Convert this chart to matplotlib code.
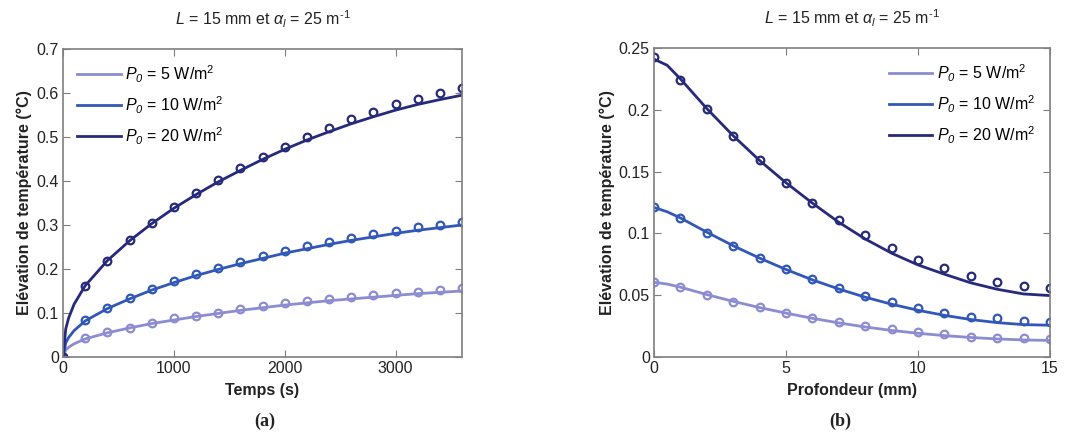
import matplotlib
matplotlib.use("Agg")
import matplotlib.pyplot as plt
import numpy as np

plt.rcParams['font.family'] = ['Liberation Sans', 'DejaVu Sans']
plt.rcParams['mathtext.fontset'] = 'custom'
plt.rcParams['mathtext.rm'] = 'Liberation Sans'
plt.rcParams['mathtext.it'] = 'Liberation Sans:italic'
plt.rcParams['mathtext.bf'] = 'Liberation Sans:bold'
plt.rcParams['mathtext.sf'] = 'Liberation Sans:italic'

# ---------------- Data (a): temperature rise vs time ----------------
t_meas = [0, 200, 400, 600, 800, 1000, 1200, 1400, 1600, 1800, 2000,
          2200, 2400, 2600, 2800, 3000, 3200, 3400, 3600]
a_meas_p5 = [0, 0.043, 0.056, 0.067, 0.078, 0.088, 0.094, 0.101, 0.110, 0.116,
             0.122, 0.127, 0.132, 0.136, 0.141, 0.145, 0.148, 0.152, 0.156]
a_meas_p10 = [0, 0.083, 0.111, 0.133, 0.154, 0.173, 0.189, 0.202, 0.217, 0.230,
              0.242, 0.252, 0.261, 0.270, 0.279, 0.287, 0.296, 0.300, 0.306]
a_meas_p20 = [0, 0.161, 0.219, 0.266, 0.304, 0.342, 0.372, 0.402, 0.430, 0.455,
              0.478, 0.501, 0.521, 0.541, 0.557, 0.574, 0.587, 0.599, 0.612]

t_sim = [0, 25, 50, 100, 200, 400, 600, 800, 1000, 1200, 1400, 1600, 1800,
         2000, 2200, 2400, 2600, 2800, 3000, 3200, 3400, 3600]
a_sim_p5 = [0, 0.016, 0.022, 0.030, 0.041, 0.055, 0.066, 0.076, 0.084, 0.092,
            0.099, 0.106, 0.112, 0.118, 0.123, 0.128, 0.132, 0.136, 0.140,
            0.144, 0.147, 0.150]
a_sim_p10 = [0, 0.032, 0.044, 0.060, 0.082, 0.110, 0.132, 0.152, 0.169, 0.185,
             0.199, 0.212, 0.224, 0.236, 0.246, 0.256, 0.265, 0.273, 0.281,
             0.288, 0.294, 0.300]
a_sim_p20 = [0, 0.064, 0.088, 0.120, 0.162, 0.219, 0.264, 0.303, 0.338, 0.369,
             0.398, 0.424, 0.449, 0.472, 0.493, 0.512, 0.530, 0.546, 0.561,
             0.574, 0.585, 0.595]

# ---------------- Data (b): temperature rise vs depth ----------------
z_meas = list(range(0, 16))
b_meas_p5 = [0.0609, 0.0564, 0.0502, 0.0448, 0.0402, 0.0359, 0.0313, 0.0281,
             0.0251, 0.0227, 0.0200, 0.0184, 0.0164, 0.0156, 0.0151, 0.0143]
b_meas_p10 = [0.1216, 0.1122, 0.1000, 0.0898, 0.0798, 0.0712, 0.0628, 0.0556,
              0.0494, 0.0442, 0.0399, 0.0359, 0.0326, 0.0313, 0.0294, 0.0281]
b_meas_p20 = [0.2424, 0.2240, 0.2006, 0.1790, 0.1590, 0.1410, 0.1250, 0.1110,
              0.0987, 0.0879, 0.0785, 0.0717, 0.0655, 0.0609, 0.0577, 0.0556]

z_sim = [0, 0.5, 1, 2, 3, 4, 5, 6, 7, 8, 9, 10, 11, 12, 13, 14, 15]
b_sim_p5 = [0.0605, 0.0590, 0.0565, 0.0505, 0.0450, 0.0400, 0.0355, 0.0313,
            0.0276, 0.0243, 0.0215, 0.0192, 0.0173, 0.0158, 0.0146, 0.0138, 0.0134]
b_sim_p10 = [0.1210, 0.1175, 0.1125, 0.1010, 0.0900, 0.0800, 0.0708, 0.0624,
             0.0550, 0.0484, 0.0427, 0.0378, 0.0337, 0.0303, 0.0278, 0.0262, 0.0257]
b_sim_p20 = [0.2410, 0.2360, 0.2250, 0.2010, 0.1790, 0.1590, 0.1410, 0.1245,
             0.1090, 0.0955, 0.0840, 0.0745, 0.0670, 0.0600, 0.0548, 0.0510, 0.0497]

labels = [r'$P_{\mathsf{0}}$ = 5 W/m$^2$', r'$P_{\mathsf{0}}$ = 10 W/m$^2$',
          r'$P_{\mathsf{0}}$ = 20 W/m$^2$']
colors = ['#8c8cd2', '#3158b8', '#262a7a']
title = r'$L$ = 15 mm et $\alpha_{\mathsf{l}}$ = 25 m$^{\text{-1}}$'

fig = plt.figure(figsize=(10.83, 4.38), dpi=100)
W, H = 1083, 438
ax1 = fig.add_axes([63 / W, 1 - 357 / H, (462 - 63) / W, (357 - 49) / H])
ax2 = fig.add_axes([654 / W, 1 - 357 / H, (1050 - 654) / W, (357 - 48) / H])

spine_col = '#7f7f7f'
text_col = '#222222'


def style(ax):
    for s in ax.spines.values():
        s.set_color(spine_col)
        s.set_linewidth(1.2)
    ax.tick_params(direction='in', top=True, right=True, length=5,
                   color=spine_col, labelsize=11.5, labelcolor=text_col, pad=3)


LW = 2.0
MS = 5.5
MEW = 1.6

# Panel (a)
for ts, ys, tm, ym, c, lab in [(t_sim, a_sim_p5, t_meas, a_meas_p5, colors[0], labels[0]),
                               (t_sim, a_sim_p10, t_meas, a_meas_p10, colors[1], labels[1]),
                               (t_sim, a_sim_p20, t_meas, a_meas_p20, colors[2], labels[2])]:
    ax1.plot(ts, ys, color=c, lw=LW, label=lab)
    ax1.plot(tm, ym, 'o', mfc='none', mec=c, ms=MS, mew=MEW)
ax1.set_xlim(0, 3600)
ax1.set_ylim(0, 0.7)
ax1.set_xticks([0, 1000, 2000, 3000])
ax1.set_yticks([0, 0.1, 0.2, 0.3, 0.4, 0.5, 0.6, 0.7])
ax1.set_yticklabels(['0', '0.1', '0.2', '0.3', '0.4', '0.5', '0.6', '0.7'])
style(ax1)
ax1.set_xlabel('Temps (s)', fontsize=11.5, fontweight='bold', labelpad=5, color=text_col)
ax1.set_ylabel('Elévation de température (°C)', fontsize=11.5, fontweight='bold',
               labelpad=3, color=text_col)
ax1.set_title(title, fontsize=11.5, pad=17, color=text_col)
ax1.legend(loc='upper left', frameon=False, fontsize=11.5, handlelength=2.7,
           handletextpad=0.3, labelspacing=0.6, borderaxespad=0.5)

# Panel (b)
for zs, ys, zm, ym, c, lab in [(z_sim, b_sim_p5, z_meas, b_meas_p5, colors[0], labels[0]),
                               (z_sim, b_sim_p10, z_meas, b_meas_p10, colors[1], labels[1]),
                               (z_sim, b_sim_p20, z_meas, b_meas_p20, colors[2], labels[2])]:
    ax2.plot(zs, ys, color=c, lw=LW, label=lab)
    ax2.plot(zm, ym, 'o', mfc='none', mec=c, ms=MS, mew=MEW)
ax2.set_xlim(0, 15)
ax2.set_ylim(0, 0.25)
ax2.set_xticks([0, 5, 10, 15])
ax2.set_yticks([0, 0.05, 0.1, 0.15, 0.2, 0.25])
ax2.set_yticklabels(['0', '0.05', '0.1', '0.15', '0.2', '0.25'])
style(ax2)
ax2.set_xlabel('Profondeur (mm)', fontsize=11.5, fontweight='bold', labelpad=5, color=text_col)
ax2.set_ylabel('Elévation de température (°C)', fontsize=11.5, fontweight='bold',
               labelpad=3, color=text_col)
ax2.set_title(title, fontsize=11.5, pad=17, color=text_col)
ax2.legend(loc='upper right', frameon=False, fontsize=11.5, handlelength=2.7,
           handletextpad=0.3, labelspacing=0.6, borderaxespad=0.5)

fig.text(265 / W, 1 - 421 / H, '(a)', fontsize=13, fontweight='bold',
         family='Liberation Serif', ha='center', va='center', color=text_col)
fig.text(840 / W, 1 - 421 / H, '(b)', fontsize=13, fontweight='bold',
         family='Liberation Serif', ha='center', va='center', color=text_col)

fig.savefig('out.png', dpi=100)
